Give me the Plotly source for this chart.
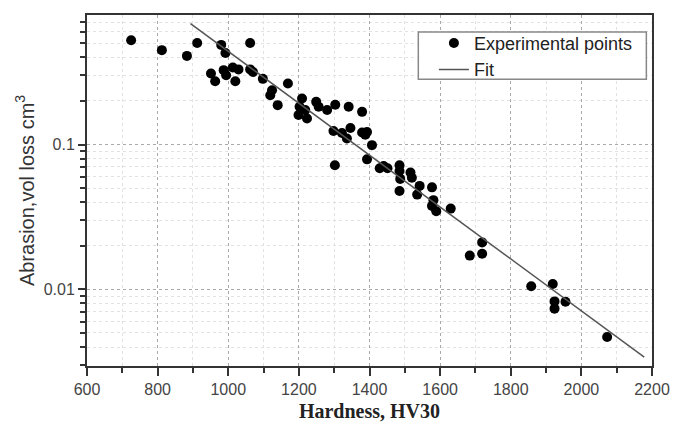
import numpy as np
import plotly.graph_objects as go

hardness = [725, 812, 883, 912, 980, 992, 1062, 951, 963, 987, 994, 1013, 1020, 1029,
            1062, 1070, 1098, 1169, 1124, 1119, 1140, 1209, 1202, 1218, 1199, 1223,
            1249, 1256, 1280, 1303, 1341, 1379, 1298, 1322, 1336, 1346, 1379, 1393,
            1388, 1407, 1302, 1393, 1429, 1440, 1451, 1485, 1485, 1487, 1516, 1520,
            1485, 1542, 1535, 1577, 1581, 1577, 1589, 1630, 1719, 1684, 1719, 1858,
            1919, 1924, 1924, 1955, 2073]
abrasion = [0.525, 0.448, 0.409, 0.502, 0.487, 0.428, 0.502, 0.309, 0.273, 0.326, 0.301,
            0.340, 0.273, 0.330, 0.330, 0.317, 0.284, 0.264, 0.237, 0.219, 0.187, 0.208,
            0.182, 0.173, 0.160, 0.151, 0.197, 0.182, 0.173, 0.188, 0.182, 0.168, 0.124,
            0.120, 0.110, 0.130, 0.121, 0.122, 0.117, 0.099, 0.072, 0.079, 0.0686, 0.0711,
            0.0686, 0.072, 0.0657, 0.0579, 0.064, 0.059, 0.0478, 0.0518, 0.0451, 0.0506,
            0.0413, 0.0377, 0.0346, 0.0361, 0.0211, 0.0171, 0.0176, 0.0105, 0.0109,
            0.00826, 0.00736, 0.00822, 0.00469]

# exponential fit  y = A * exp(-k * HV)
fit_A = 27.2
fit_k = 0.004125
fit_x = np.linspace(893, 2178, 50)
fit_y = fit_A * np.exp(-fit_k * fit_x)

fig = go.Figure()
fig.add_trace(go.Scatter(x=hardness, y=abrasion, mode="markers", name="Experimental points",
                         marker=dict(color="black", size=10)))
fig.add_trace(go.Scatter(x=fit_x, y=fit_y, mode="lines", name="Fit",
                         line=dict(color="#555555", width=1.5)))

tickfont = dict(family="Arial, Liberation Sans", size=16, color="#444444")
fig.update_layout(
    width=673, height=428,
    margin=dict(l=87, r=21, t=15, b=62),
    paper_bgcolor="white", plot_bgcolor="white",
    showlegend=True,
    legend=dict(x=0.614, y=0.972, xanchor="left", yanchor="top",
                borderwidth=0, bgcolor="rgba(0,0,0,0)",
                font=dict(family="Arial, Liberation Sans", size=18, color="#222222"),
                tracegroupgap=0),
    shapes=[dict(type="rect", xref="paper", yref="paper",
                 x0=0.5864, x1=0.990, y0=0.817, y1=0.9517,
                 line=dict(color="#888888", width=1.5), fillcolor="white", layer="above")],
    xaxis=dict(range=[600, 2200], dtick=200, tick0=600, automargin=False,
               ticks="outside", ticklen=8, tickwidth=1.5, tickcolor="#333",
               showline=True, linecolor="#333", linewidth=2, mirror=True,
               showgrid=True, gridcolor="#aaaaaa", griddash="dot", gridwidth=1,
               zeroline=False, tickfont=tickfont,
               minor=dict(dtick=100, ticks="outside", ticklen=5, tickcolor="#333",
                          showgrid=True, gridcolor="#e2e2e2", griddash="dot"),
               title=dict(text="<b>Hardness, HV30</b>",
                          font=dict(family="Liberation Serif, Times New Roman", size=20, color="#222"),
                          standoff=7)),
    yaxis=dict(type="log", range=[-2.529, -0.106], dtick=1, automargin=False,
               tickvals=[0.01, 0.1], ticktext=["0.01", "0.1"],
               ticks="outside", ticklen=7, tickwidth=1.5, tickcolor="#333",
               showline=True, linecolor="#333", linewidth=2, mirror=True,
               showgrid=True, gridcolor="#aaaaaa", griddash="dot", gridwidth=1,
               zeroline=False, tickfont=tickfont,
               minor=dict(dtick="D1", ticks="outside", ticklen=5, tickcolor="#333",
                          showgrid=True, gridcolor="#e2e2e2", griddash="dot"),
               title=dict(text="Abrasion,vol loss cm<sup>3</sup>",
                          font=dict(family="Arial, Liberation Sans", size=20, color="#333"),
                          standoff=4)),
)

fig.write_html("out.html")
